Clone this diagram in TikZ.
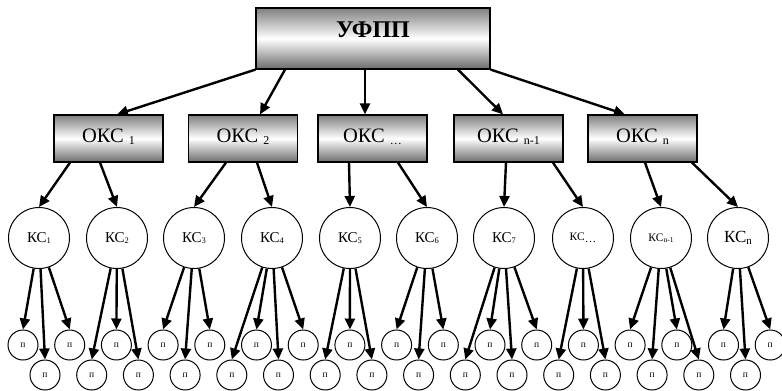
\documentclass[tikz,border=0pt]{standalone}
\usepackage{fontspec}
\setmainfont{Liberation Serif}
\usetikzlibrary{calc,arrows.meta}
\newcommand{\boxsub}[1]{\raisebox{-1.5pt}{\fontsize{12}{12}\selectfont #1}}
\newcommand{\kssub}[2][8.5]{\raisebox{-1.5pt}{\fontsize{#1}{#1}\selectfont #2}}
\tikzset{
  shadebox/.style={draw=black, line width=1.2pt, top color=black!50,
    bottom color=black!58, middle color=white, inner sep=0pt},
  topbox/.style={shadebox, minimum width=234pt, minimum height=61pt,
    font=\fontsize{24}{24}\selectfont\bfseries, text height=16pt, text depth=18pt},
  okbox/.style={shadebox, minimum width=109pt, minimum height=47pt,
    font=\fontsize{20.5}{20.5}\selectfont, text height=14pt, text depth=6pt},
  ks/.style={circle, draw=black, line width=1pt, minimum size=61pt,
    inner sep=0pt, font=\fontsize{15}{15}\selectfont},
  pp/.style={circle, draw=black, line width=1pt, minimum size=30pt,
    inner sep=0pt, font=\fontsize{9.5}{9.5}\selectfont},
  arr/.style={draw=black, line width=2.4pt, -{Triangle[length=11pt,width=10pt]}}
}

\begin{document}
\begin{tikzpicture}[x=1pt, y=-1pt, line join=miter]
  \useasboundingbox (0,0) rectangle (782,391);
  \node[topbox] (ufpp) at (373,38.5) {УФПП};
  \node[okbox] (oks1) at (108.5,138.5) {ОКС \boxsub{1}};
  \node[okbox] (oks2) at (243,138.5) {ОКС \boxsub{2}};
  \node[okbox] (oks3) at (372.5,138.5) {ОКС \boxsub{\dots}};
  \node[okbox] (oks4) at (508.5,138.5) {ОКС \boxsub{n-1}};
  \node[okbox] (oks5) at (642.5,138.5) {ОКС \boxsub{n}};
  \node[ks] (ks1) at (39,238) {КС\kssub{1}};
  \node[ks] (ks2) at (117,238) {КС\kssub{2}};
  \node[ks] (ks3) at (194,238) {КС\kssub{3}};
  \node[ks] (ks4) at (272,238) {КС\kssub{4}};
  \node[ks] (ks5) at (350,238) {КС\kssub{5}};
  \node[ks] (ks6) at (427,238) {КС\kssub{6}};
  \node[ks] (ks7) at (504,238) {КС\kssub{7}};
  \node[ks, font=\fontsize{11.5}{11.5}\selectfont] (ks8) at (583,238) {КС\kssub[11.5]{\dots}};
  \node[ks, font=\fontsize{11.5}{11.5}\selectfont] (ks9) at (661,238) {КС\kssub[7.5]{n-1}};
  \node[ks, font=\fontsize{17}{17}\selectfont] (ks10) at (738,238) {КС\kssub[11]{n}};
  \foreach \i in {1,...,17}
    \node[pp] (a\i) at ({23+46.7*(\i-1)},345) {п};
  \foreach \i in {1,...,16}
    \node[pp] (b\i) at ({45+46.7*(\i-1)},375) {п};
  \draw[arr] (ufpp.south west) -- ($(oks1.north)+(8.5,0)$);
  \draw[arr] ($(ufpp.south)+(-88,0)$) -- ($(oks2.north)+(17,0)$);
  \draw[arr] ($(ufpp.south)+(-8,0)$) -- ($(oks3.north)+(-7.5,0)$);
  \draw[arr] ($(ufpp.south)+(85,0)$) -- ($(oks4.north)+(-5.5,0)$);
  \draw[arr] (ufpp.south east) -- ($(oks5.north)+(-17.5,0)$);
  \foreach \o/\dx/\k in {1/-38.5/1, 1/-8.5/2, 2/-17/3, 2/14/4, 3/-23.5/5, 3/25.5/6,
      4/-2.5/7, 4/44.5/8, 5/2.5/9, 5/49.5/10}
    \draw[arr] ($(oks\o.south)+(\dx,0)$) -- (ks\k.north);
  \foreach \k/\p in {1/a1, 1/b1, 1/a2, 2/b2, 2/a3, 2/b3, 3/a4, 3/b4, 3/a5,
      4/b5, 4/a6, 4/b6, 4/a7, 5/b7, 5/a8, 5/b8, 6/a9, 6/b9, 6/a10,
      7/b10, 7/a11, 7/b11, 7/a12, 8/b12, 8/a13, 8/b13,
      9/a14, 9/b14, 9/a15, 9/b15, 10/a16, 10/b16, 10/a17}
    \draw[arr] (ks\k) -- (\p.north);
\end{tikzpicture}
\end{document}
